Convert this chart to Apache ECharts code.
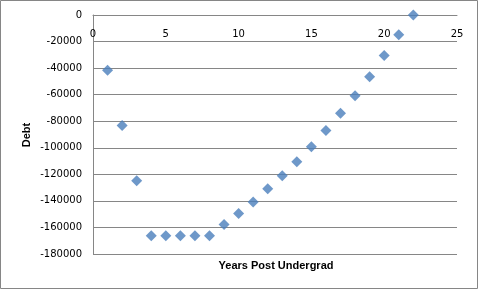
<!DOCTYPE html>
<html>
<head>
<meta charset="utf-8">
<script src="https://cdn.jsdelivr.net/npm/echarts@6/dist/echarts.min.js"></script>
<style>html,body{margin:0;padding:0;background:#fff;}#c{width:480px;height:290px;}</style>
</head>
<body>
<div id="c"></div>
<script>
var years = [1,2,3,4,5,6,7,8,9,10,11,12,13,14,15,16,17,18,19,20,21,22];
var debt = [-41600,-83200,-124800,-166300,-166300,-166300,-166300,-166300,-157800,-149500,-140800,-130800,-121000,-110500,-99200,-87000,-74000,-60800,-46500,-30500,-14800,0];
var xTitle = 'Years Post Undergrad';
var yTitle = 'Debt';

var chart = echarts.init(document.getElementById('c'), null, {renderer:'canvas'});
var pts = years.map(function(x,i){return [x, debt[i]];});
var titleFont = {fontFamily:'Liberation Sans',fontWeight:'bold',fontSize:11,fill:'#000'};
chart.setOption({
  animation:false,
  backgroundColor:'#fff',
  grid:{left:93,right:23,top:15,bottom:36,containLabel:false,outerBoundsMode:'none'},
  graphic:[
    {type:'rect',shape:{x:0.5,y:0.5,width:477,height:288},style:{fill:'none',stroke:'#868686',lineWidth:1},z:-1},
    {type:'text',x:276,y:266,style:Object.assign({text:xTitle,align:'center',verticalAlign:'middle'},titleFont)},
    {type:'text',x:27,y:135,rotation:Math.PI/2,style:Object.assign({text:yTitle,align:'center',verticalAlign:'middle'},titleFont)}
  ],
  xAxis:{
    type:'value',min:0,max:25,interval:5,position:'top',
    axisLine:{onZero:false,lineStyle:{color:'#868686'}},
    axisTick:{show:false},
    splitLine:{show:false},
    axisLabel:{inside:true,fontFamily:'DejaVu Sans',fontSize:10,color:'#000',margin:14,showMinLabel:true,showMaxLabel:true,
      formatter:function(v){return String(v);}}
  },
  yAxis:{
    type:'value',min:-180000,max:0,interval:20000,
    axisLine:{show:true,lineStyle:{color:'#868686'}},
    axisTick:{show:false},
    splitLine:{lineStyle:{color:'#868686'}},
    axisLabel:{fontFamily:'DejaVu Sans',fontSize:10,color:'#000',margin:11,showMinLabel:true,showMaxLabel:true,
      formatter:function(v){return String(v);}}
  },
  series:[{
    type:'scatter',data:pts,symbol:'diamond',symbolSize:11,
    itemStyle:{color:'#4A7EBB'}
  }]
});
</script>
</body>
</html>
